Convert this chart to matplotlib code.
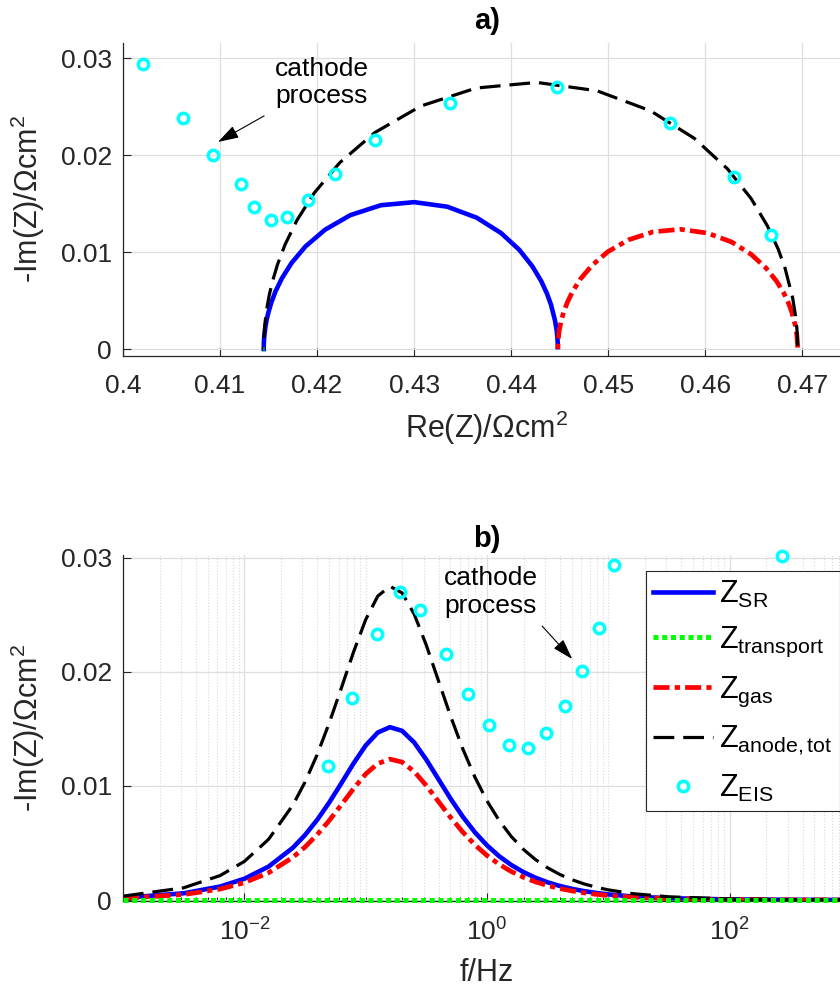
import numpy as np
import matplotlib
matplotlib.use("Agg")
import matplotlib.pyplot as plt
from matplotlib.ticker import LogLocator, NullFormatter, FixedLocator

FONT = "Liberation Sans"
plt.rcParams["font.family"] = [FONT, "DejaVu Sans"]
plt.rcParams["mathtext.fontset"] = "custom"
plt.rcParams["mathtext.rm"] = FONT
plt.rcParams["mathtext.it"] = FONT + ":italic"
plt.rcParams["mathtext.bf"] = FONT + ":bold"

AX_COL = "#262626"

# frequency grid of the model curves (log10 f / Hz)
LOG_F = [-3.0, -2.5, -2.2, -2.0, -1.8, -1.6, -1.5, -1.4, -1.3, -1.2, -1.1, -1.0,
         -0.9, -0.8, -0.7, -0.6, -0.5, -0.4, -0.3, -0.2, -0.1, 0.0, 0.1, 0.2,
         0.3, 0.4, 0.5, 0.6, 0.7, 0.8, 0.9, 1.0, 1.2, 1.5, 2.0, 2.5, 3.0]

# surface reaction
IM_SR = [0.00019, 0.00059, 0.00118, 0.00186, 0.00293, 0.00458, 0.00569, 0.00702,
         0.00855, 0.01024, 0.01197, 0.01354, 0.01468, 0.01515, 0.01483, 0.01381,
         0.01230, 0.01059, 0.00888, 0.00731, 0.00594, 0.00479, 0.00384, 0.00307,
         0.00245, 0.00195, 0.00155, 0.00123, 0.00098, 0.00078, 0.00062, 0.00049,
         0.00031, 0.00016, 0.00005, 0.00002, 0.00000]
RE_SR = [0.44480, 0.44479, 0.44475, 0.44469, 0.44451, 0.44409, 0.44369, 0.44308,
         0.44216, 0.44082, 0.43894, 0.43645, 0.43341, 0.43000, 0.42656, 0.42342,
         0.42081, 0.41881, 0.41737, 0.41638, 0.41571, 0.41528, 0.41500, 0.41481,
         0.41470, 0.41463, 0.41458, 0.41455, 0.41453, 0.41452, 0.41451, 0.41451,
         0.41450, 0.41450, 0.41450, 0.41450, 0.41450]

# gas diffusion
IM_GAS = [0.00015, 0.00048, 0.00096, 0.00152, 0.00239, 0.00374, 0.00464, 0.00572,
          0.00697, 0.00835, 0.00976, 0.01104, 0.01196, 0.01235, 0.01209, 0.01126,
          0.01003, 0.00863, 0.00724, 0.00596, 0.00484, 0.00390, 0.00313, 0.00250,
          0.00200, 0.00159, 0.00127, 0.00100, 0.00080, 0.00063, 0.00050, 0.00040,
          0.00025, 0.00013, 0.00004, 0.00001, 0.00000]
RE_GAS = [0.46950, 0.46949, 0.46946, 0.46941, 0.46927, 0.46892, 0.46860, 0.46810,
          0.46735, 0.46625, 0.46472, 0.46270, 0.46021, 0.45743, 0.45463, 0.45207,
          0.44994, 0.44832, 0.44714, 0.44633, 0.44579, 0.44543, 0.44520, 0.44506,
          0.44496, 0.44490, 0.44487, 0.44484, 0.44483, 0.44482, 0.44481, 0.44481,
          0.44480, 0.44480, 0.44480, 0.44480, 0.44480]

# anode total
IM_TOT = [0.00034, 0.00107, 0.00214, 0.00338, 0.00532, 0.00832, 0.01033, 0.01273,
          0.01552, 0.01859, 0.02173, 0.02457, 0.02664, 0.02750, 0.02692, 0.02506,
          0.02233, 0.01922, 0.01611, 0.01326, 0.01078, 0.00869, 0.00697, 0.00557,
          0.00444, 0.00354, 0.00282, 0.00224, 0.00178, 0.00141, 0.00112, 0.00089,
          0.00056, 0.00028, 0.00009, 0.00003, 0.00001]
RE_TOT = [0.46950, 0.46948, 0.46942, 0.46929, 0.46898, 0.46821, 0.46749, 0.46637,
          0.46471, 0.46227, 0.45886, 0.45435, 0.44882, 0.44263, 0.43638, 0.43068,
          0.42595, 0.42233, 0.41971, 0.41791, 0.41670, 0.41591, 0.41540, 0.41507,
          0.41486, 0.41473, 0.41465, 0.41459, 0.41456, 0.41454, 0.41452, 0.41451,
          0.41451, 0.41450, 0.41450, 0.41450, 0.41450]

# transport (practically zero)
F_TR = [1e-3, 1e3]
RE_TR = [0.41450, 0.41440]
IM_TR = [0.0, 0.0]

# measured EIS points
LOG_F_EIS = [-1.31, -1.11, -0.91, -0.72, -0.55, -0.34, -0.16, 0.02, 0.18, 0.34,
             0.49, 0.64, 0.78, 0.92, 1.05, 2.43, 2.89, 2.94]
IM_EIS = [0.01177, 0.01770, 0.02335, 0.02700, 0.02540, 0.02160, 0.01806, 0.01537,
          0.01360, 0.01332, 0.01465, 0.01704, 0.02006, 0.02383, 0.02940, 0.03018,
          0.02056, 0.01866]
RE_EIS = [0.46677, 0.46292, 0.45639, 0.44471, 0.43365, 0.42598, 0.42186, 0.41910,
          0.41694, 0.41523, 0.41354, 0.41213, 0.40925, 0.40622, 0.40210]

X_TICKS_A = [0.40, 0.41, 0.42, 0.43, 0.44, 0.45, 0.46, 0.47]
X_LABELS_A = ["0.4", "0.41", "0.42", "0.43", "0.44", "0.45", "0.46", "0.47"]
Y_TICKS = [0.0, 0.01, 0.02, 0.03]
Y_LABELS = ["0", "0.01", "0.02", "0.03"]

LABELS = ["Z$_{\\mathrm{SR}}$", "Z$_{\\mathrm{transport}}$", "Z$_{\\mathrm{gas}}$",
          "Z$_{\\mathrm{anode,tot}}$", "Z$_{\\mathrm{EIS}}$"]

BLUE, GREEN, RED, CYAN = "#0000ff", "#00ff00", "#ff0000", "#00ffff"
DOT = (0, (1.0, 0.75))
DASHDOT = (0, (3.4, 1.1, 1.1, 1.1))
DASH = (0, (6.5, 2.8))
MS, MEW = 7.5, 2.5


def style_axes(ax):
    for s in ("top", "right"):
        ax.spines[s].set_visible(False)
    for s in ("left", "bottom"):
        ax.spines[s].set_color(AX_COL)
        ax.spines[s].set_linewidth(0.9)
    ax.tick_params(which="both", direction="in", colors=AX_COL, labelsize=19,
                   width=0.8, top=False, right=False)
    ax.tick_params(which="major", length=6)
    ax.tick_params(axis="x", pad=13)
    ax.tick_params(axis="y", pad=8)
    ax.set_axisbelow(True)
    ax.grid(True, which="major", color="#dedede", lw=0.9)
    ax.set_yticks(Y_TICKS)
    ax.set_yticklabels(Y_LABELS)


f = 10 ** np.array(LOG_F)
f_eis = 10 ** np.array(LOG_F_EIS)

fig = plt.figure(figsize=(8.4, 9.9), dpi=100)
ax1 = fig.add_axes([0.1464, 0.6404, 0.8667, 0.3165])
ax2 = fig.add_axes([0.1464, 0.0902, 0.8667, 0.3492])

# ---- a) Nyquist
style_axes(ax1)
ax1.plot(RE_SR, IM_SR, color=BLUE, lw=3.3)
ax1.plot(RE_TR, IM_TR, color=GREEN, lw=3.6, ls=DOT, zorder=3)
ax1.plot(RE_GAS, IM_GAS, color=RED, lw=3.4, ls=DASHDOT)
ax1.plot(RE_TOT, IM_TOT, color="k", lw=2.3, ls=DASH)
ax1.plot(RE_EIS, IM_EIS[:len(RE_EIS)], ls="none", marker="o", ms=MS, mfc="none",
         mec=CYAN, mew=MEW, clip_on=False)
ax1.set_xlim(0.40, 0.475)
ax1.set_ylim(-0.00072, 0.0316)
ax1.set_xticks(X_TICKS_A)
ax1.set_xticklabels(X_LABELS_A)
ax1.set_xlabel("Re(Z)/\u03a9cm$^2$", fontsize=22, color=AX_COL, labelpad=8)
ax1.set_ylabel("-Im(Z)/\u03a9cm$^2$", fontsize=22, color=AX_COL, labelpad=10)
ax1.set_title("a)", fontsize=21, fontweight="bold", pad=9.5)
ax1.text(0.4205, 0.0275, "cathode\nprocess", fontsize=19, ha="center", va="center")
ax1.annotate("", xy=(0.40979, 0.02136), xytext=(0.41454, 0.02405),
             arrowprops=dict(arrowstyle="-|>,head_length=0.8,head_width=0.25",
                             color="k", lw=0.8, mutation_scale=16,
                             shrinkA=0, shrinkB=0))

# ---- b) -Im vs frequency
style_axes(ax2)
ax2.set_xscale("log")
ax2.plot(f, IM_SR, color=BLUE, lw=3.3, label=LABELS[0])
ax2.plot(F_TR, IM_TR, color=GREEN, lw=3.6, ls=DOT, label=LABELS[1], clip_on=False,
         zorder=3)
ax2.plot(f, IM_GAS, color=RED, lw=3.4, ls=DASHDOT, label=LABELS[2])
ax2.plot(f, IM_TOT, color="k", lw=2.3, ls=DASH, label=LABELS[3])
ax2.plot(f_eis, IM_EIS, ls="none", marker="o", ms=MS, mfc="none", mec=CYAN,
         mew=MEW, clip_on=False, label=LABELS[4])
ax2.set_xlim(1e-3, 1e3)
ax2.set_ylim(-0.00006, 0.03024)
ax2.xaxis.set_major_locator(FixedLocator([1e-2, 1e0, 1e2]))
ax2.xaxis.set_minor_locator(LogLocator(base=10, subs=np.arange(1, 10), numticks=50))
ax2.xaxis.set_minor_formatter(NullFormatter())
ax2.tick_params(which="minor", length=3)
ax2.grid(True, which="minor", axis="x", color="#d9d9d9", lw=0.8, ls=":")
ax2.set_xlabel("f/Hz", fontsize=22, color=AX_COL, labelpad=9)
ax2.set_ylabel("-Im(Z)/\u03a9cm$^2$", fontsize=22, color=AX_COL, labelpad=10)
ax2.set_title("b)", fontsize=21, fontweight="bold", pad=6)
ax2.text(1.079, 0.0270, "cathode\nprocess", fontsize=19, ha="center", va="center")
ax2.annotate("", xy=(5.04, 0.02112), xytext=(2.848, 0.02401),
             arrowprops=dict(arrowstyle="-|>,head_length=0.8,head_width=0.25",
                             color="k", lw=0.8, mutation_scale=16,
                             shrinkA=0, shrinkB=0))

leg = ax2.legend(loc="upper left", bbox_to_anchor=(0.718, 0.954), fontsize=22,
                 handlelength=1.95, handletextpad=0.2, labelspacing=0.5,
                 borderpad=0.25, borderaxespad=0, numpoints=1, frameon=True,
                 fancybox=False, edgecolor=AX_COL, framealpha=1)
leg.get_frame().set_linewidth(0.8)

fig.savefig("out.png", dpi=100)
